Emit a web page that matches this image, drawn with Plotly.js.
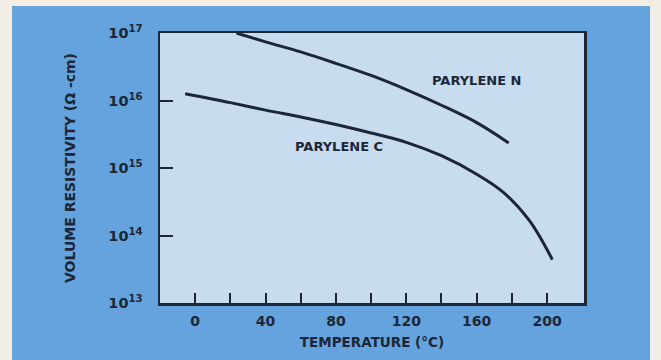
<!DOCTYPE html>
<html>
<head>
<meta charset="utf-8">
<script src="https://cdn.plot.ly/plotly-3.0.1.min.js"></script>
<style>html,body{margin:0;padding:0;background:#f2eee6;}#chart{width:661px;height:360px;}</style>
</head>
<body>
<div id="chart"></div>
<script>
// Parylene N: temperature (°C) vs volume resistivity (Ω-cm)
const tempN = [23.5, 40, 60, 80, 100, 120, 140, 160, 178.2];
const resN  = [1.0e17, 7.4e16, 5.25e16, 3.55e16, 2.35e16, 1.45e16, 8.5e15, 4.7e15, 2.35e15];
// Parylene C
const tempC = [-5.7, 20, 40, 60, 80, 100, 120, 140, 160, 175, 190, 203];
const resC  = [1.26e16, 9.3e15, 7.2e15, 5.7e15, 4.4e15, 3.3e15, 2.4e15, 1.52e15, 8.1e14, 4.4e14, 1.66e14, 4.4e13];

const xTickVals = [0, 20, 40, 60, 80, 100, 120, 140, 160, 180, 200];
const xTickText = ['0', '', '40', '', '80', '', '120', '', '160', '', '200'];
const yTickVals = [1e13, 1e14, 1e15, 1e16, 1e17];
const yTickText = ['10<sup>13</sup>', '10<sup>14</sup>', '10<sup>15</sup>', '10<sup>16</sup>', '10<sup>17</sup>'];

const ink = '#1c2636';
const fam = 'DejaVu Sans, sans-serif';
const lineStyle = {color: ink, width: 3, shape: 'spline', smoothing: 1};

const traces = [
  {x: tempN, y: resN, mode: 'lines', line: lineStyle, name: 'PARYLENE N', hoverinfo: 'skip'},
  {x: tempC, y: resC, mode: 'lines', line: lineStyle, name: 'PARYLENE C', hoverinfo: 'skip'}
];

const layout = {
  width: 661, height: 360,
  margin: {l: 160, r: 77, t: 33, b: 57, pad: 0},
  paper_bgcolor: '#64a3dd',
  plot_bgcolor: '#c8dcf0',
  showlegend: false,
  font: {family: fam, color: ink},
  xaxis: {
    range: [-20, 221], tickvals: xTickVals, ticktext: xTickText,
    ticks: 'inside', ticklen: 10, tickwidth: 2, tickcolor: ink,
    showline: true, linecolor: ink, linewidth: 2.5, mirror: true,
    showgrid: false, zeroline: false,
    tickfont: {family: fam, size: 14, color: ink, weight: 'bold'},
    ticklabelstandoff: 4,
    title: {text: 'TEMPERATURE (°C)', font: {family: fam, size: 13.5, color: ink, weight: 'bold'}, standoff: 10}
  },
  yaxis: {
    type: 'log', range: [13, 17], tickvals: yTickVals, ticktext: yTickText,
    ticks: 'inside', ticklen: 13, tickwidth: 2, tickcolor: ink,
    showline: true, linecolor: ink, linewidth: 2.5, mirror: true,
    showgrid: false, zeroline: false,
    tickfont: {family: fam, size: 14.5, color: ink, weight: 'bold'},
    ticklabelstandoff: 12,
    title: {text: 'VOLUME RESISTIVITY (Ω -cm)', font: {family: fam, size: 14, color: ink, weight: 'bold'}, standoff: 30}
  },
  annotations: [
    {x: 159.8, y: 16.30, xref: 'x', yref: 'y', text: 'PARYLENE N', showarrow: false,
     font: {family: fam, size: 13, color: ink, weight: 'bold'}},
    {x: 81.9, y: 15.32, xref: 'x', yref: 'y', text: 'PARYLENE C', showarrow: false,
     font: {family: fam, size: 13, color: ink, weight: 'bold'}}
  ],
  shapes: [
    {type: 'rect', xref: 'paper', yref: 'paper', x0: -0.5, x1: -0.349, y0: -0.5, y1: 1.5, fillcolor: '#f2eee6', line: {width: 0}},
    {type: 'rect', xref: 'paper', yref: 'paper', x0: 1.1557, x1: 1.3, y0: -0.5, y1: 1.5, fillcolor: '#f2eee6', line: {width: 0}},
    {type: 'rect', xref: 'paper', yref: 'paper', x0: -0.5, x1: 1.5, y0: 1.1, y1: 1.5, fillcolor: '#f2eee6', line: {width: 0}}
  ]
};

Plotly.newPlot('chart', traces, layout, {displayModeBar: false, staticPlot: true});
</script>
</body>
</html>
